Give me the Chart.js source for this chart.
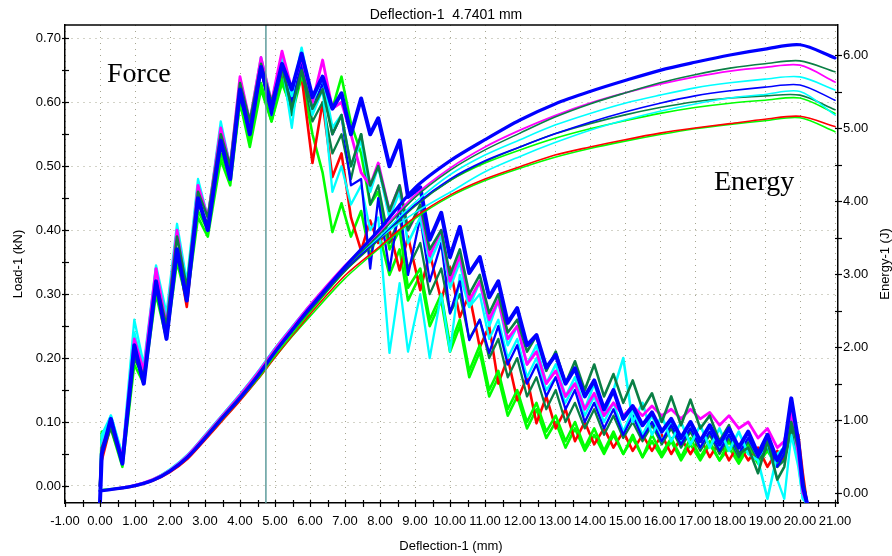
<!DOCTYPE html>
<html>
<head>
<meta charset="utf-8">
<script src="https://cdn.jsdelivr.net/npm/chart.js@4.4.1/dist/chart.umd.min.js"></script>
<style>
html,body{margin:0;padding:0;background:#fff;}
#wrap{width:892px;height:556px;position:relative;}
</style>
</head>
<body>
<div id="wrap"><canvas id="c" width="892" height="556"></canvas></div>
<script>
// ---------- tick labels ----------
const deflTicks = [-1,0,1,2,3,4,5,6,7,8,9,10,11,12,13,14,15,16,17,18,19,20,21];
const loadTicks = [0,0.1,0.2,0.3,0.4,0.5,0.6,0.7];
const energyTicks = [0,1,2,3,4,5,6];
const cursorDefl = 4.7401;

// ---------- force curves (Load-1, kN) ----------
const deflection = [0,0.05,0.31,0.64,0.98,1.25,1.6,1.9,2.2,2.48,
 2.8,3.08,3.45,3.72,4.0,4.28,4.6,4.9,5.2,5.48,
 5.76,6.07,6.36,6.64,6.9,7.17,7.46,7.72,7.95,8.27,
 8.56,8.8,9.15,9.42,9.75,10.0,10.28,10.55,10.85,11.12,
 11.38,11.65,11.92,12.2,12.47,12.75,13.02,13.3,13.57,13.85,
 14.12,14.4,14.67,14.95,15.22,15.5,15.77,16.05,16.32,16.6,
 16.87,17.15,17.42,17.7,17.97,18.25,18.52,18.8,19.07,19.35,
 19.55,19.75,19.95,20.08,20.2];

const loadBlue1 = [-0.025,0.05,0.105,0.035,0.22,0.16,0.32,0.23,0.37,0.29,
 0.45,0.40,0.54,0.48,0.62,0.55,0.655,0.59,0.66,0.62,
 0.676,0.608,0.64,0.59,0.614,0.55,0.606,0.55,0.575,0.50,
 0.54,0.452,0.467,0.385,0.427,0.358,0.405,0.333,0.358,0.295,
 0.32,0.255,0.278,0.22,0.236,0.185,0.205,0.16,0.184,0.14,
 0.165,0.12,0.15,0.105,0.125,0.095,0.115,0.085,0.105,0.075,
 0.10,0.07,0.095,0.065,0.09,0.06,0.085,0.05,0.08,0.04,
 0.06,0.137,0.07,0.0,-0.027];
const loadDkGreen1 = [0.0,0.06,0.095,0.04,0.21,0.17,0.32,0.25,0.39,0.31,
 0.46,0.42,0.55,0.50,0.63,0.57,0.66,0.60,0.655,0.59,
 0.65,0.59,0.62,0.55,0.58,0.50,0.55,0.47,0.50,0.43,
 0.47,0.40,0.44,0.37,0.40,0.33,0.37,0.30,0.33,0.27,
 0.30,0.24,0.26,0.21,0.235,0.18,0.21,0.16,0.195,0.15,
 0.19,0.14,0.175,0.13,0.165,0.12,0.145,0.10,0.14,0.095,
 0.135,0.09,0.11,0.07,0.095,0.05,0.06,0.02,0.07,0.01,
 0.03,0.10,0.06,0.01,-0.027];
const loadMagenta = [0.0,0.06,0.10,0.045,0.23,0.18,0.34,0.25,0.40,0.30,
 0.47,0.42,0.56,0.50,0.64,0.57,0.67,0.60,0.68,0.62,
 0.67,0.60,0.666,0.59,0.60,0.55,0.49,0.47,0.505,0.43,
 0.47,0.40,0.436,0.36,0.40,0.32,0.36,0.29,0.32,0.26,
 0.29,0.23,0.25,0.19,0.21,0.16,0.18,0.14,0.16,0.12,
 0.145,0.11,0.13,0.11,0.125,0.11,0.125,0.11,0.12,0.105,
 0.12,0.105,0.115,0.095,0.11,0.09,0.10,0.075,0.09,0.06,
 0.07,0.115,0.05,-0.01,-0.027];
const loadCyan1 = [0.0,0.07,0.11,0.045,0.24,0.18,0.34,0.26,0.40,0.31,
 0.47,0.42,0.56,0.50,0.635,0.57,0.67,0.60,0.67,0.61,
 0.685,0.60,0.64,0.56,0.58,0.50,0.54,0.46,0.50,0.42,
 0.46,0.38,0.42,0.35,0.39,0.31,0.35,0.28,0.32,0.25,
 0.29,0.22,0.25,0.19,0.22,0.16,0.19,0.14,0.17,0.12,
 0.16,0.11,0.15,0.20,0.10,0.13,0.08,0.11,0.07,0.10,
 0.065,0.095,0.06,0.09,0.055,0.085,0.05,0.04,-0.02,0.05,
 0.06,0.124,0.04,-0.02,-0.027];
const loadBlue2 = [0.0,0.05,0.10,0.035,0.21,0.16,0.32,0.23,0.37,0.29,
 0.45,0.40,0.54,0.48,0.61,0.55,0.65,0.58,0.66,0.60,
 0.66,0.59,0.63,0.55,0.58,0.47,0.48,0.34,0.45,0.337,
 0.44,0.33,0.42,0.32,0.38,0.27,0.32,0.228,0.26,0.208,
 0.25,0.19,0.22,0.16,0.19,0.14,0.17,0.12,0.15,0.10,
 0.13,0.09,0.12,0.08,0.11,0.075,0.10,0.07,0.095,0.065,
 0.09,0.06,0.085,0.055,0.08,0.05,0.075,0.045,0.07,0.03,
 0.05,0.11,0.05,-0.01,-0.027];
const loadCyan2 = [0.0,0.08,0.11,0.05,0.26,0.19,0.345,0.27,0.41,0.32,
 0.48,0.42,0.57,0.50,0.63,0.56,0.66,0.58,0.66,0.56,
 0.68,0.58,0.62,0.46,0.50,0.44,0.47,0.40,0.42,0.208,
 0.317,0.21,0.30,0.20,0.30,0.21,0.33,0.28,0.30,0.23,
 0.26,0.20,0.23,0.17,0.20,0.15,0.17,0.13,0.16,0.11,
 0.14,0.10,0.13,0.085,0.12,0.08,0.11,0.07,0.10,0.07,
 0.09,0.06,0.085,0.06,0.08,0.05,0.075,0.045,0.065,0.01,
 -0.02,0.08,0.03,-0.02,-0.027];
const loadDkGreen2 = [0.0,0.05,0.09,0.035,0.20,0.17,0.31,0.24,0.37,0.30,
 0.44,0.41,0.53,0.49,0.61,0.56,0.65,0.58,0.65,0.58,
 0.65,0.57,0.60,0.52,0.55,0.48,0.55,0.44,0.47,0.38,
 0.42,0.34,0.38,0.30,0.34,0.27,0.30,0.23,0.26,0.20,
 0.23,0.17,0.20,0.14,0.17,0.12,0.15,0.10,0.13,0.09,
 0.12,0.08,0.11,0.075,0.10,0.07,0.095,0.065,0.09,0.06,
 0.085,0.055,0.08,0.05,0.075,0.045,0.07,0.04,0.06,0.03,
 0.04,0.09,0.04,-0.01,-0.027];
const loadGreen1 = [0.0,0.085,0.09,0.03,0.19,0.16,0.30,0.23,0.35,0.29,
 0.42,0.39,0.51,0.47,0.60,0.53,0.62,0.57,0.63,0.59,
 0.64,0.60,0.62,0.59,0.64,0.567,0.52,0.44,0.46,0.37,
 0.40,0.31,0.34,0.26,0.30,0.22,0.26,0.18,0.22,0.15,
 0.18,0.12,0.15,0.10,0.13,0.085,0.11,0.07,0.10,0.06,
 0.09,0.055,0.085,0.05,0.08,0.045,0.08,0.05,0.075,0.045,
 0.075,0.045,0.07,0.04,0.07,0.04,0.065,0.04,0.06,0.035,
 0.05,0.10,0.05,0.0,-0.027];
const loadRed = [0.0,0.04,0.095,0.04,0.21,0.17,0.32,0.24,0.37,0.28,
 0.45,0.40,0.54,0.48,0.62,0.56,0.65,0.59,0.65,0.60,
 0.64,0.505,0.60,0.483,0.52,0.42,0.368,0.415,0.38,0.40,
 0.337,0.39,0.306,0.364,0.29,0.342,0.264,0.30,0.217,0.25,
 0.16,0.20,0.134,0.17,0.098,0.14,0.09,0.12,0.07,0.10,
 0.065,0.09,0.06,0.085,0.055,0.08,0.055,0.08,0.05,0.075,
 0.05,0.075,0.045,0.07,0.04,0.065,0.04,0.06,0.03,0.055,
 0.04,0.09,0.08,0.02,-0.027];
const loadGreen2 = [0.0,0.06,0.10,0.04,0.20,0.17,0.31,0.25,0.36,0.30,
 0.43,0.40,0.52,0.48,0.60,0.54,0.63,0.57,0.64,0.58,
 0.64,0.55,0.49,0.397,0.442,0.39,0.43,0.36,0.40,0.33,
 0.37,0.29,0.33,0.25,0.29,0.21,0.25,0.17,0.21,0.14,
 0.17,0.11,0.14,0.09,0.12,0.075,0.10,0.06,0.09,0.055,
 0.08,0.05,0.08,0.05,0.075,0.045,0.07,0.045,0.07,0.04,
 0.065,0.04,0.065,0.04,0.06,0.035,0.06,0.035,0.055,0.03,
 0.045,0.085,0.04,-0.01,-0.027];

// ---------- energy curves (Energy-1, J) ----------
const energyDefl = [0,0.9,1.5,2,2.5,3,3.5,4,4.5,5,5.5,6,7,8,9,10,11,12,13,14,15,16,17,18,19,20,21];
const energyBlue1 = [0.03,0.09,0.17,0.30,0.49,0.75,1.03,1.30,1.60,1.93,2.24,2.54,3.10,3.62,4.18,4.55,4.84,5.11,5.33,5.50,5.65,5.79,5.90,6.00,6.08,6.14,5.96];
const energyDkGreen1 = [0.03,0.09,0.18,0.31,0.50,0.77,1.05,1.32,1.62,1.95,2.25,2.54,3.08,3.55,4.05,4.42,4.70,4.93,5.15,5.33,5.48,5.62,5.73,5.82,5.88,5.92,5.77];
const energyMagenta = [0.03,0.10,0.19,0.32,0.52,0.79,1.07,1.35,1.65,1.98,2.28,2.58,3.12,3.58,4.08,4.45,4.74,4.97,5.17,5.34,5.48,5.60,5.70,5.78,5.83,5.86,5.63];
const energyCyan1 = [0.03,0.10,0.19,0.33,0.53,0.80,1.08,1.36,1.66,1.99,2.29,2.58,3.10,3.52,3.98,4.36,4.63,4.84,5.04,5.20,5.34,5.45,5.55,5.62,5.67,5.70,5.52];
const energyBlue2 = [0.03,0.09,0.17,0.30,0.49,0.75,1.03,1.30,1.60,1.93,2.23,2.52,3.06,3.50,3.95,4.30,4.55,4.74,4.92,5.08,5.22,5.34,5.44,5.51,5.56,5.59,5.38];
const energyCyan2 = [0.03,0.10,0.19,0.33,0.53,0.80,1.08,1.36,1.66,1.99,2.29,2.58,3.10,3.50,3.84,4.12,4.40,4.61,4.80,4.97,5.11,5.23,5.33,5.41,5.46,5.50,5.18];
const energyDkGreen2 = [0.03,0.09,0.17,0.30,0.49,0.75,1.02,1.29,1.58,1.91,2.21,2.50,3.04,3.48,3.93,4.28,4.54,4.74,4.92,5.06,5.18,5.28,5.36,5.41,5.44,5.45,5.25];
const energyGreen1 = [0.04,0.10,0.18,0.30,0.49,0.74,1.01,1.28,1.56,1.88,2.18,2.48,3.04,3.50,3.94,4.28,4.52,4.70,4.86,4.99,5.10,5.20,5.28,5.34,5.38,5.41,5.20];
const energyRed = [0.03,0.08,0.16,0.28,0.46,0.72,0.99,1.26,1.55,1.86,2.16,2.45,2.98,3.38,3.78,4.08,4.30,4.47,4.63,4.74,4.84,4.93,5.00,5.06,5.12,5.16,5.02];
const energyGreen2 = [0.04,0.09,0.17,0.29,0.47,0.73,1.00,1.27,1.55,1.86,2.15,2.42,2.94,3.36,3.76,4.06,4.28,4.45,4.60,4.72,4.82,4.91,4.99,5.05,5.10,5.14,4.95];

// ---------- specimens ----------
const specimens = [
  {load: loadBlue1,    energy: energyBlue1,    color:'#0000ff', fw:4.0, ew:3.2},
  {load: loadDkGreen1, energy: energyDkGreen1, color:'#0a7f45', fw:2.6, ew:1.6},
  {load: loadMagenta,  energy: energyMagenta,  color:'#ff00ff', fw:2.8, ew:1.8},
  {load: loadCyan1,    energy: energyCyan1,    color:'#00ffff', fw:2.6, ew:1.6},
  {load: loadBlue2,    energy: energyBlue2,    color:'#0000ff', fw:2.3, ew:1.6},
  {load: loadCyan2,    energy: energyCyan2,    color:'#00ffff', fw:2.3, ew:1.6},
  {load: loadDkGreen2, energy: energyDkGreen2, color:'#0a7f45', fw:2.3, ew:1.6},
  {load: loadGreen1,   energy: energyGreen1,   color:'#00ff00', fw:2.6, ew:1.6},
  {load: loadRed,      energy: energyRed,      color:'#ff0000', fw:2.6, ew:1.6},
  {load: loadGreen2,   energy: energyGreen2,   color:'#00ff00', fw:2.6, ew:1.6}
];

const datasets = [];
specimens.forEach((s, i) => {
  datasets.push({
    label: 'Energy ' + (i + 1), yAxisID: 'y2',
    data: energyDefl.map((x, k) => ({x: x, y: s.energy[k]})),
    borderColor: s.color, borderWidth: s.ew, pointRadius: 0, tension: 0.3, fill: false
  });
});
specimens.forEach((s, i) => {
  datasets.push({
    label: 'Load ' + (i + 1), yAxisID: 'y',
    data: deflection.map((x, k) => ({x: x, y: s.load[k]})),
    borderColor: s.color, borderWidth: s.fw, pointRadius: 0, tension: 0, fill: false
  });
});

const FONT = "'Liberation Sans', Arial, sans-serif";
const SERIF = "'Liberation Serif', 'Times New Roman', serif";
const GRID = 'rgba(150,150,125,0.85)';

const deco = {
  id: 'deco',
  afterDatasetsDraw(chart) {
    const {ctx, chartArea: a, scales: {x}} = chart;
    const cx = x.getPixelForValue(cursorDefl);
    ctx.save();
    ctx.strokeStyle = '#5e9c9c';
    ctx.lineWidth = 1.5;
    ctx.beginPath(); ctx.moveTo(cx, a.top); ctx.lineTo(cx, a.bottom); ctx.stroke();
    ctx.restore();
  },
  afterDraw(chart) {
    const {ctx, chartArea: a, scales: {x, y, y2}} = chart;
    ctx.save();
    ctx.strokeStyle = '#000';
    ctx.lineWidth = 1.5;
    const line = (x1, y1, x2, y2_) => { ctx.beginPath(); ctx.moveTo(x1, y1); ctx.lineTo(x2, y2_); ctx.stroke(); };
    line(a.left, a.top, a.right, a.top);
    ctx.lineWidth = 1.2;
    for (let v = deflTicks[0]; v <= deflTicks[deflTicks.length - 1] + 1e-6; v += 0.5) {
      const p = Math.round(x.getPixelForValue(v)) + 0.5;
      line(p, a.bottom - 3, p, a.bottom + 4);
    }
    for (let v = loadTicks[0]; v <= loadTicks[loadTicks.length - 1] + 1e-6; v += 0.05) {
      const p = Math.round(y.getPixelForValue(v)) + 0.5;
      line(a.left - 3, p, a.left + 4, p);
    }
    for (let v = energyTicks[0]; v <= energyTicks[energyTicks.length - 1] + 1e-6; v += 0.5) {
      const p = Math.round(y2.getPixelForValue(v)) + 0.5;
      line(a.right - 3, p, a.right + 4, p);
    }
    ctx.fillStyle = '#000';
    ctx.textBaseline = 'middle';
    ctx.textAlign = 'center';
    ctx.font = '14px ' + FONT;
    ctx.fillText('Deflection-1  4.7401 mm', 446, 15);
    ctx.font = '13px ' + FONT;
    ctx.fillText('Deflection-1 (mm)', 451, 546);
    ctx.save(); ctx.translate(18, 264); ctx.rotate(-Math.PI / 2); ctx.fillText('Load-1 (kN)', 0, 0); ctx.restore();
    ctx.save(); ctx.translate(885, 264); ctx.rotate(-Math.PI / 2); ctx.fillText('Energy-1 (J)', 0, 0); ctx.restore();
    ctx.textAlign = 'left';
    ctx.textBaseline = 'alphabetic';
    ctx.font = '28px ' + SERIF;
    ctx.fillText('Force', 107, 82);
    ctx.fillText('Energy', 714, 190);
    ctx.restore();
  }
};

new Chart(document.getElementById('c'), {
  type: 'line',
  data: {datasets: datasets},
  plugins: [deco],
  options: {
    responsive: false,
    animation: false,
    devicePixelRatio: 1,
    layout: {padding: {top: 25, left: 0, right: 0, bottom: 0}},
    plugins: {legend: {display: false}, tooltip: {enabled: false}, title: {display: false}},
    elements: {line: {borderCapStyle: 'round', borderJoinStyle: 'round'}},
    scales: {
      x: {
        type: 'linear', min: -1, max: 21.085,
        afterFit: s => { s.height = 53; },
        afterBuildTicks: s => { s.ticks = deflTicks.map(v => ({value: v})); },
        ticks: {autoSkip: false, maxRotation: 0, minRotation: 0, padding: 11, color: '#000',
                font: {family: FONT, size: 13}, callback: v => Number(v).toFixed(2)},
        grid: {color: GRID, lineWidth: 1, drawTicks: false},
        border: {display: true, color: '#000', width: 1.5, dash: [1, 5]}
      },
      y: {
        type: 'linear', position: 'left', min: -0.0266, max: 0.7208,
        afterFit: s => { s.width = 65; },
        afterBuildTicks: s => { s.ticks = loadTicks.map(v => ({value: v})); },
        ticks: {padding: 4, color: '#000', font: {family: FONT, size: 13}, callback: v => Number(v).toFixed(2)},
        grid: {color: GRID, lineWidth: 1, drawTicks: false},
        border: {display: true, color: '#000', width: 1.5, dash: [1, 5]}
      },
      y2: {
        type: 'linear', position: 'right', min: -0.137, max: 6.411,
        afterFit: s => { s.width = 54; },
        afterBuildTicks: s => { s.ticks = energyTicks.map(v => ({value: v})); },
        ticks: {padding: 5, color: '#000', font: {family: FONT, size: 13}, callback: v => Number(v).toFixed(2)},
        grid: {drawOnChartArea: false, drawTicks: false},
        border: {display: true, color: '#000', width: 1.5}
      }
    }
  }
});
</script>
</body>
</html>
